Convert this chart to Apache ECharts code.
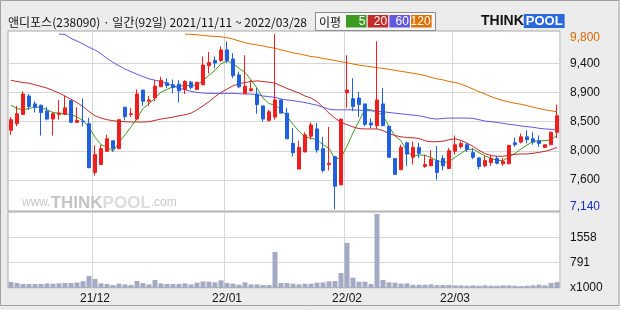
<!DOCTYPE html>
<html><head><meta charset="utf-8">
<script src="https://cdn.jsdelivr.net/npm/echarts@6/dist/echarts.min.js"></script>
<style>html,body{margin:0;padding:0;background:#fff}#c{width:620px;height:310px}</style>
</head><body><div id="c"></div>
<script>
const dates = [
'21/11/11','21/11/12','21/11/15','21/11/16','21/11/17','21/11/18','21/11/19','21/11/22','21/11/23','21/11/24','21/11/25','21/11/26','21/11/29','21/11/30',
'21/12/01','21/12/02','21/12/03','21/12/06','21/12/07','21/12/08','21/12/09','21/12/10','21/12/13','21/12/14','21/12/15','21/12/16','21/12/17','21/12/20','21/12/21','21/12/22','21/12/23','21/12/24','21/12/27','21/12/28','21/12/29','21/12/30',
'22/01/03','22/01/04','22/01/05','22/01/06','22/01/07','22/01/10','22/01/11','22/01/12','22/01/13','22/01/14','22/01/17','22/01/18','22/01/19','22/01/20','22/01/21','22/01/24','22/01/25','22/01/26','22/01/27','22/01/28',
'22/02/03','22/02/04','22/02/07','22/02/08','22/02/09','22/02/10','22/02/11','22/02/14','22/02/15','22/02/16','22/02/17','22/02/18','22/02/21','22/02/22','22/02/23','22/02/24','22/02/25','22/02/28',
'22/03/02','22/03/03','22/03/04','22/03/07','22/03/08','22/03/10','22/03/11','22/03/14','22/03/15','22/03/16','22/03/17','22/03/18','22/03/21','22/03/22','22/03/23','22/03/24','22/03/25','22/03/28'];

const opens = [8340,8440,8580,8860,8740,8720,8630,8510,8580,8580,
8790,8460,8480,8440,7700,7820,8020,8180,8060,8690,
8580,8510,8950,8780,8830,9000,9060,9030,9040,8960,
9070,8960,9030,9320,9400,9400,9560,9420,9180,8900,
8940,8890,8710,8490,8540,8800,8600,8140,7750,8010,
8250,8360,8060,7820,7940,7510,8910,8820,8830,8740,
8450,8410,8740,8400,7910,7740,8150,7930,8080,7790,
7800,7880,7910,7760,8020,8090,8120,8000,7920,7800,
7850,7910,7830,7830,8150,8160,8240,8210,8180,8080,
8120,8310];
const closes = [8500,8590,8890,8700,8690,8610,8510,8590,8600,8680,
8460,8490,8470,7770,7970,8060,8210,8060,8500,8550,
8590,8890,8780,8800,9010,9100,9020,8990,8940,9080,
8990,9070,9330,9370,9360,9560,9400,9170,9000,9010,
8970,8730,8510,8620,8800,8600,8210,8000,8080,8270,
8420,8040,7730,7840,7490,8510,8950,8700,8730,8430,
8420,8800,8410,7930,7670,8080,7980,8080,7990,7820,
7900,7700,7800,8030,8120,8140,8050,7930,7790,7880,
7910,7840,7870,8110,8120,8240,8200,8160,8140,8120,
8310,8560];
const lows = [8270,8400,8580,8650,8610,8260,8490,8260,8500,8580,
8460,8460,8400,7770,7650,7820,8020,8020,8060,8490,
8540,8490,8710,8710,8780,9000,8980,8900,8760,8890,
8960,8950,9030,9200,9280,9380,9360,9130,8980,8890,
8930,8590,8470,8470,8500,8600,8210,7940,7750,8010,
8200,8000,7700,7730,7140,7510,8680,8630,8540,8400,
8370,8360,8410,7930,7670,7740,7800,7820,7920,7770,
7800,7590,7730,7760,7970,8060,8010,7900,7750,7780,
7800,7820,7800,7830,8090,8140,8140,8120,8090,8080,
8120,8220];
const highs = [8540,8710,8930,8890,8780,8730,8690,8610,8800,8860,
8800,8690,8820,8530,8110,8120,8270,8180,8500,8690,
8680,8960,8950,8860,9100,9150,9130,9110,9100,9100,
9090,9070,9460,9530,9460,9610,9690,9510,9230,9480,
9100,8980,8710,8650,9800,8800,8680,8370,8180,8310,
8460,8450,8240,8390,7950,8510,9480,9130,8920,8740,
8520,9690,8980,8400,7910,8120,8150,8170,8150,7970,
8040,8100,7960,8070,8260,8170,8150,8070,7930,7950,
7970,7950,7920,8120,8230,8290,8340,8310,8260,8120,
8320,8730];
const volumes = [176,144,113,113,113,113,134,124,134,144,
144,160,200,361,268,134,113,82,124,103,
82,206,144,103,237,134,113,113,113,134,
103,155,196,186,165,227,144,124,93,165,
103,103,82,82,1103,144,144,124,103,124,
124,155,165,196,206,453,1381,309,185,185,
113,2277,237,165,155,124,134,93,93,93,
103,82,82,82,72,72,62,72,62,72,
62,62,72,72,62,52,62,72,93,72,
144,170];
const ma5 = [8720,8670,8650,8670,8690,8690,8650,8610,8600,8590,
8580,8540,8490,8385,8235,8120,8090,8015,8160,8270,
8390,8520,8670,8740,8830,8920,8960,9000,9010,9020,
9020,9025,9095,9175,9250,9350,9390,9355,9280,9220,
9105,8980,8830,8745,8725,8650,8550,8430,8325,8235,
8220,8195,8120,8065,7905,7920,8100,8300,8480,8660,
8650,8620,8560,8400,8250,8180,8020,7950,7965,7960,
7925,7880,7850,7860,7930,7990,8050,8055,8000,7950,
7910,7885,7880,7935,7990,8055,8115,8170,8180,8180,
8195,8265];
const ma20 = [9100,9080,9065,9055,9030,9005,8980,8945,8905,8860,
8810,8760,8700,8625,8560,8525,8500,8485,8475,8470,
8465,8465,8465,8470,8490,8510,8525,8540,8560,8575,
8600,8650,8710,8775,8850,8915,8965,9015,9045,9065,
9080,9090,9080,9070,9055,9015,8975,8940,8905,8860,
8830,8775,8690,8600,8525,8460,8425,8390,8365,8360,
8360,8360,8335,8290,8260,8240,8230,8225,8215,8180,
8165,8165,8175,8195,8210,8185,8145,8095,8035,7985,
7955,7945,7945,7960,7975,7980,7980,7990,8005,8020,
8045,8080];
const ma60 = [null,null,null,null,null,null,null,null,9800,9795,
9735,9695,9650,9600,9560,9500,9430,9370,9320,9270,
9230,9190,9155,9120,9100,9080,9055,9015,8980,8955,
8930,8915,8905,8900,8900,8900,8900,8900,8895,8890,
8890,8880,8860,8850,8840,8815,8800,8790,8775,8760,
8740,8720,8690,8660,8650,8650,8650,8650,8645,8640,
8635,8630,8620,8610,8600,8590,8580,8570,8560,8540,
8520,8510,8520,8525,8525,8525,8525,8520,8500,8480,
8470,8460,8445,8430,8420,8405,8395,8385,8370,8360,
8355,8350];
const ma120 = [null,null,null,null,null,null,null,null,null,null,
null,null,null,null,null,null,null,null,null,null,
null,null,null,null,null,null,null,null,null,9800,
9795,9790,9780,9770,9765,9760,9745,9725,9695,9670,
9650,9635,9620,9600,9585,9560,9540,9515,9500,9480,
9460,9450,9430,9415,9400,9380,9365,9345,9330,9315,
9305,9290,9280,9265,9250,9235,9220,9205,9190,9170,
9145,9120,9105,9080,9065,9040,9005,8965,8925,8890,
8850,8820,8790,8770,8750,8735,8715,8690,8670,8650,
8635,8620];
const priceTickLabels = ['7,140','7,600','8,000','8,500','8,900','9,400','9,800'];
const volTickLabels = ['x1000','791','1558',''];
const maNames = ['5','20','60','120'];
const maColors = ['#3f9a22','#c42b2b','#6458e0','#e07000'];
const titleText = '앤디포스(238090) · 일간(92일) 2021/11/11 ~ 2022/03/28';

const NUMF = '"Liberation Sans", Arial, sans-serif';
const KRF = '"Noto Sans CJK KR", sans-serif';
const isMonthStart = (i) => i > 0 && dates[i].slice(0,5) !== dates[i-1].slice(0,5);
const gridLine = {color:'#d6d6d6', width:1};
const L = 8, R = 60;

const chart = echarts.init(document.getElementById('c'), null, {renderer:'canvas'});
const maSeries = [ma5, ma20, ma60, ma120].map((arr, k) => ({
  type:'line', name:'MA'+maNames[k], xAxisIndex:0, yAxisIndex:0, data:arr,
  symbol:'none', showSymbol:false, silent:true, z:2,
  lineStyle:{color:maColors[k], width:1}
}));

const option = {
  animation:false,
  backgroundColor:'#ececec',
  grid:[
    {left:L, right:R, top:31, height:180, show:true, backgroundColor:'#fff', borderColor:'#a8a8a8', borderWidth:1},
    {left:L, right:R, top:212, height:75.7, show:true, backgroundColor:'#fff', borderColor:'#a8a8a8', borderWidth:1},
    {left:L, right:R, top:34.1, height:175.2, show:false}
  ],
  xAxis:[
    {type:'category', gridIndex:0, data:dates, boundaryGap:true,
     axisLine:{show:false}, axisTick:{show:false}, axisLabel:{show:false},
     splitLine:{show:true, interval:(i)=>isMonthStart(i), lineStyle:gridLine}},
    {type:'category', gridIndex:1, data:dates, boundaryGap:true,
     axisLine:{show:false}, axisTick:{show:false},
     axisLabel:{show:true, interval:(i)=>isMonthStart(i), formatter:(v)=>v.slice(0,5),
       margin:5, fontSize:12, fontFamily:NUMF, color:'#111'},
     splitLine:{show:true, interval:(i)=>isMonthStart(i), lineStyle:gridLine}},
    {type:'value', gridIndex:2, min:0, max:1, show:false}
  ],
  yAxis:[
    {type:'value', gridIndex:0, min:7114, max:9847, show:false},
    {type:'value', gridIndex:1, min:0, max:2337, interval:779, position:'right',
     axisLine:{show:false}, axisTick:{show:false},
     splitLine:{show:true, showMinLine:false, showMaxLine:false, lineStyle:gridLine},
     axisLabel:{margin:10, fontSize:12, fontFamily:NUMF, color:'#111', showMinLabel:true, showMaxLabel:true,
       formatter:(v, i)=>volTickLabels[Math.round(v/779)]}},
    {type:'value', gridIndex:2, min:0, max:6, interval:1, position:'right',
     axisLine:{show:false}, axisTick:{show:false},
     splitLine:{show:true, showMinLine:false, showMaxLine:false, lineStyle:gridLine},
     axisLabel:{margin:10, fontSize:12, fontFamily:NUMF, color:'#111', showMinLabel:true, showMaxLabel:true,
       formatter:(v)=>{const i=Math.round(v); const t=priceTickLabels[i];
         if(i===0) return '{lo|'+t+'}'; if(i===priceTickLabels.length-1) return '{hi|'+t+'}'; return t;},
       rich:{
         hi:{color:'#d86a00', fontSize:12, fontFamily:NUMF, padding:[8,0,0,0]},
         lo:{color:'#1530c8', fontSize:12, fontFamily:NUMF, padding:[0,0,5,0]}
       }}}
  ],
  series:[
    ...maSeries,
    {type:'candlestick', xAxisIndex:0, yAxisIndex:0, z:3, barWidth:4,
     data: dates.map((d,i)=>[opens[i], closes[i], lows[i], highs[i]]),
     itemStyle:{color:'#f01e1e', color0:'#1f5fe0', borderColor:'#f01e1e', borderColor0:'#1f5fe0', borderWidth:1}},
    {type:'bar', xAxisIndex:1, yAxisIndex:1, data:volumes, barWidth:5, silent:true,
     itemStyle:{color:'#a3aac4'}}
  ],
  graphic:[
    {type:'rect', z:20, silent:true, shape:{x:0.5, y:0.5, width:618.5, height:305}, style:{fill:'none', stroke:'#a0a0a0', lineWidth:1}},
    {type:'text', z:10, x:8, y:22, style:{text:titleText, font:'12px '+KRF, fill:'#111', textVerticalAlign:'middle', verticalAlign:'middle'}},
    {type:'group', x:315, y:12, z:10, children:[
      {type:'rect', shape:{x:0.5, y:0.5, width:120, height:18}, style:{fill:'#f6f6f6', stroke:'#8c8c8c', lineWidth:1}},
      {type:'text', x:4, y:10, style:{text:'이평', font:'12px '+KRF, fill:'#111', verticalAlign:'middle', textVerticalAlign:'middle'}},
      ...maNames.map((n,k)=>({type:'rect', shape:{x:31+k*21.7, y:3, width:20.5, height:12.5}, style:{fill:maColors[k]}})),
      ...maNames.map((n,k)=>({type:'text', x:31+k*21.7+19.5, y:10, style:{text:n, font:'12px '+NUMF, fill:'#fff', align:'right', textAlign:'right', verticalAlign:'middle', textVerticalAlign:'middle'}}))
    ]},
    {type:'text', z:10, x:481, y:21, style:{
      text:'{a|THINK}{b|POOL}', verticalAlign:'middle', textVerticalAlign:'middle',
      rich:{a:{font:'bold 14px '+NUMF, fill:'#111', color:'#111'},
            b:{font:'bold 13px '+NUMF, fill:'#fff', color:'#fff', backgroundColor:'#2a68dc', padding:[1,2,0,2]}}}},
    {type:'text', z:1, silent:true, x:22, y:203, style:{
      text:'{s|www.}{b|THINK}{c|POOL}{s|.com}', verticalAlign:'middle', textVerticalAlign:'middle',
      rich:{s:{font:'12px '+NUMF, fill:'#c8c8c8', color:'#c8c8c8'},
            b:{font:'bold 17px '+NUMF, fill:'#c4c4c4', color:'#c4c4c4'},
            c:{font:'bold 17px '+NUMF, fill:'#dcdcdc', color:'#dcdcdc'}}}}
  ]
};
chart.setOption(option);
</script></body></html>
